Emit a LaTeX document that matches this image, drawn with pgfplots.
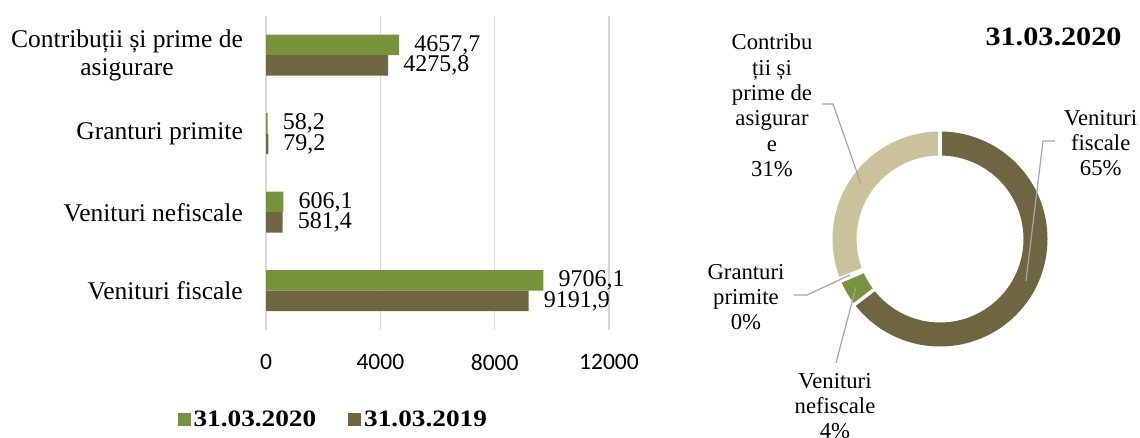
\documentclass[border=0pt]{standalone}
\usepackage{pgfplots}
\pgfplotsset{compat=1.18}
\usepackage{pgfplotstable}
\usepackage{fontspec}
\setmainfont{Liberation Serif}
\newfontfamily\calib{Carlito}
\newfontfamily\titlefont[FakeStretch=1.14]{Liberation Serif}
\newfontfamily\legfont[FakeStretch=1.16]{Liberation Serif}

\definecolor{c2020}{HTML}{77933C}
\definecolor{c2019}{HTML}{6E6641}
\definecolor{ctan}{HTML}{C9C29B}
\definecolor{cgrid}{HTML}{D9D9D9}
\definecolor{clead}{HTML}{A6A6A6}

% idx: 0 = bottom category
\pgfplotstableread{
idx v2020 v2019
0 9706.1 9191.9
1 606.1 581.4
2 58.2 79.2
3 4657.7 4275.8
}\data

\newcommand{\ring}[3]{% colour, start angle, end angle
  \fill[#1] (axis cs:{107.5*cos(#2)},{107.5*sin(#2)})
    arc[start angle=#2, end angle=#3, radius=107.5pt]
    -- (axis cs:{83.5*cos(#3)},{83.5*sin(#3)})
    arc[start angle=#3, end angle=#2, radius=83.5pt] -- cycle;}
\newcommand{\gap}[1]{%
  \draw[white, line width=3.5pt] (axis cs:{80*cos(#1)},{80*sin(#1)}) -- (axis cs:{111*cos(#1)},{111*sin(#1)});}

\begin{document}
\begin{tikzpicture}
\useasboundingbox (0,0) rectangle (1140pt,438pt);

% donut angles, clockwise from 12 o'clock, from the 2020 column
\pgfplotstablegetelem{0}{v2020}\of\data \let\va\pgfplotsretval
\pgfplotstablegetelem{1}{v2020}\of\data \let\vb\pgfplotsretval
\pgfplotstablegetelem{2}{v2020}\of\data \let\vc\pgfplotsretval
\pgfplotstablegetelem{3}{v2020}\of\data \let\vd\pgfplotsretval
\pgfmathsetmacro\tot{\va+\vb+\vc+\vd}
\pgfmathsetmacro\aA{90}
\pgfmathsetmacro\aB{\aA-360*(\va/\tot)}
\pgfmathsetmacro\aC{\aB-360*(\vb/\tot)}
\pgfmathsetmacro\aD{\aC-360*(\vc/\tot)}
\pgfmathsetmacro\aE{\aD-360*(\vd/\tot)}

\begin{axis}[
  at={(266pt,108pt)}, anchor=south west,
  width=343pt, height=314pt, scale only axis,
  xbar, bar width=20.5pt,
  xmin=0, xmax=12000, ymin=-0.5, ymax=3.5,
  xtick={0,4000,8000,12000}, scaled x ticks=false,
  ytick={0,1,2,3},
  yticklabels={Venituri fiscale, Venituri nefiscale, Granturi primite, {Contribuții și prime de\\asigurare}},
  axis line style={draw=none},
  major tick length=0pt,
  xmajorgrids, grid style={cgrid, line width=1.3pt},
  xticklabel style={font=\calib\fontsize{23.5}{26}\selectfont, inner sep=0pt, yshift=-24pt},
  yticklabel style={font=\fontsize{25.5}{27.5}\selectfont, align=center, inner sep=0pt, xshift=-23pt},
  /pgf/number format/assume math mode=true,
  /pgf/number format/set thousands separator={},
  point meta=x,
  nodes near coords={\pgfmathprintnumber[fixed,fixed zerofill,precision=1,use comma,1000 sep={}]{\pgfplotspointmeta}},
  every node near coord/.append style={font=\fontsize{24}{27}\selectfont, anchor=west, inner sep=0pt, xshift=15pt},
  legend style={draw=none, fill=none, legend columns=2, at={(0.196,-0.285)}, anchor=center,
    font=\legfont\bfseries\fontsize{23.5}{26}\selectfont,
    /tikz/every odd column/.append style={column sep=1pt},
    /tikz/every even column/.append style={column sep=30pt}},
]
\addplot[fill=c2020, draw=none, bar shift=10.25pt,
  legend image code/.code={\fill[c2020] (0pt,-6.5pt) rectangle (13pt,6.5pt);}]
  table[x=v2020, y=idx]{\data};
\addplot[fill=c2019, draw=none, bar shift=-10.25pt,
  legend image code/.code={\fill[c2019] (0pt,-6.5pt) rectangle (13pt,6.5pt);}]
  table[x=v2019, y=idx]{\data};
\legend{31.03.2020, 31.03.2019}
\end{axis}

\begin{axis}[
  at={(940pt,199pt)}, anchor=center,
  x=1pt, y=1pt, xmin=-110, xmax=110, ymin=-110, ymax=110,
  hide axis, clip=false,
]
\ring{c2019}{\aA}{\aB}
\ring{c2020}{\aB}{\aC}
\ring{c2020}{\aC}{\aD}
\ring{ctan}{\aD}{\aE}
\gap{\aA}\gap{\aB}\gap{\aC}\gap{\aD}

\draw[clead, line width=1.2pt] (axis cs:115,98) -- (axis cs:103,98) -- (axis cs:86,-42);
\draw[clead, line width=1.2pt] (axis cs:-118,135) -- (axis cs:-107,135) -- (axis cs:-79,55);
\draw[clead, line width=1.2pt] (axis cs:-146,-56) -- (axis cs:-133,-56) -- (axis cs:-90,-36);
\draw[clead, line width=1.2pt] (axis cs:-104,-124) -- (axis cs:-84,-48);

\node[font=\titlefont\bfseries\fontsize{26.5}{30}\selectfont] at (axis cs:113.5,202) {31.03.2020};
\node[align=center, font=\fontsize{22.7}{25.3}\selectfont] at (axis cs:160.7,96) {Venituri\\fiscale\\65\%};
\node[align=center, font=\fontsize{22.7}{25.3}\selectfont] at (axis cs:-168,133.5) {Contribu\\ții și\\prime de\\asigurar\\e\\31\%};
\node[align=center, font=\fontsize{22.7}{25.3}\selectfont] at (axis cs:-194,-58) {Granturi\\primite\\0\%};
\node[align=center, font=\fontsize{22.7}{25.3}\selectfont] at (axis cs:-105,-167) {Venituri\\nefiscale\\4\%};
\end{axis}
\end{tikzpicture}
\end{document}
